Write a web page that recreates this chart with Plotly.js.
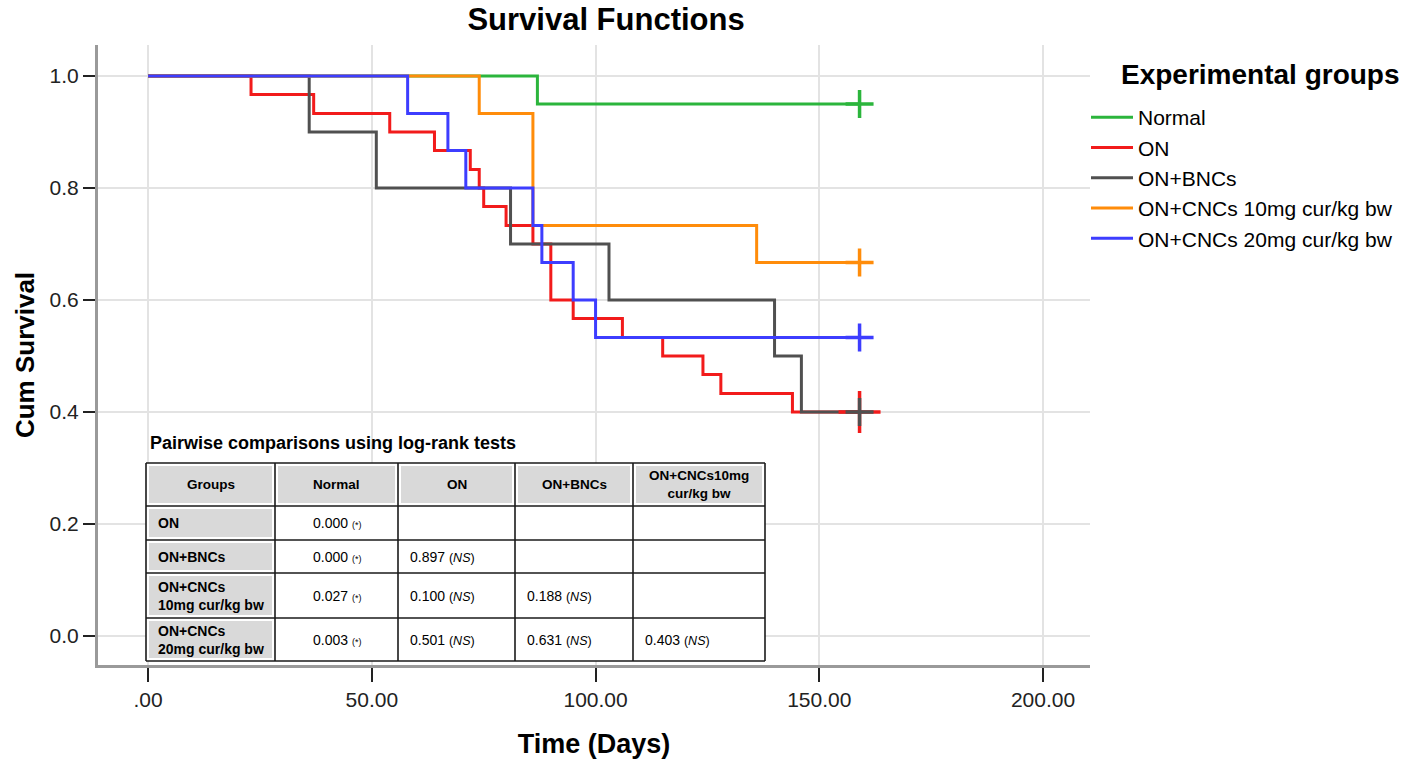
<!DOCTYPE html>
<html>
<head>
<meta charset="utf-8">
<script src="https://cdn.plot.ly/plotly-3.0.1.min.js"></script>
<style>
  html, body { margin: 0; padding: 0; background: #ffffff; }
  #chart { width: 1416px; height: 766px; }
</style>
</head>
<body>
<div id="chart"></div>
<script>
// ---------------- Data ----------------
const groups = ['Normal', 'ON', 'ON+BNCs', 'ON+CNCs 10mg cur/kg bw', 'ON+CNCs 20mg cur/kg bw'];

// Kaplan-Meier step curves: time (days) and cumulative survival
const normalTime = [0, 87, 159];
const normalSurv = [1.0, 0.95, 0.95];

const onTime = [0, 23, 37, 54, 64, 72, 74, 75, 80, 86, 90, 95, 106, 115, 124, 128, 144, 159];
const onSurv = [1.0, 0.967, 0.933, 0.900, 0.867, 0.833, 0.800, 0.767, 0.733, 0.700, 0.600, 0.567, 0.533, 0.500, 0.467, 0.433, 0.400, 0.400];

const bncTime = [0, 36, 51, 81, 103, 140, 146, 159];
const bncSurv = [1.0, 0.9, 0.8, 0.7, 0.6, 0.5, 0.4, 0.4];

const cnc10Time = [0, 74, 86, 136, 159];
const cnc10Surv = [1.0, 0.933, 0.733, 0.667, 0.667];

const cnc20Time = [0, 58, 67, 71, 86, 88, 95, 100, 159];
const cnc20Surv = [1.0, 0.933, 0.867, 0.800, 0.733, 0.667, 0.600, 0.533, 0.533];

// Censored observations (end of follow-up)
const censorTime = [159, 159, 159, 159, 159];
const censorSurv = [0.95, 0.40, 0.40, 0.667, 0.533];

// Axis ticks
const xTickVals = [0, 50, 100, 150, 200];
const xTickText = ['.00', '50.00', '100.00', '150.00', '200.00'];
const yTickVals = [0, 0.2, 0.4, 0.6, 0.8, 1.0];
const yTickText = ['0.0', '0.2', '0.4', '0.6', '0.8', '1.0'];

// Pairwise log-rank comparison table
const tableTitle = 'Pairwise comparisons using log-rank tests';
const tableHeader = ['Groups', 'Normal', 'ON', 'ON+BNCs', 'ON+CNCs10mg<br>cur/kg bw'];
const rowLabels = ['ON', 'ON+BNCs', 'ON+CNCs<br>10mg cur/kg bw', 'ON+CNCs<br>20mg cur/kg bw'];
const pNormal = [0.000, 0.000, 0.027, 0.003];
const pON = [null, 0.897, 0.100, 0.501];
const pBNC = [null, null, 0.188, 0.631];
const pCNC10 = [null, null, null, 0.403];

// ---------------- Styles & layout geometry ----------------
const groupColors = ['#2bb53c', '#f21b1b', '#505050', '#ff8c0a', '#3d3dff'];
const FONT = 'Liberation Sans, Arial, sans-serif';
const W = 1416, H = 766;
const M = { l: 98, r: 326, t: 45, b: 101 };
const plotW = W - M.l - M.r, plotH = H - M.t - M.b;
const px2x = p => (p - M.l) / plotW;          // pixel -> paper x
const px2y = p => (H - M.b - p) / plotH;      // pixel -> paper y

// table grid (pixels)
const colEdges = [146, 275, 398, 515, 633, 765];
const rowEdges = [463, 506, 540, 573, 618, 661];
const colAlign = ['left', 'center', 'left', 'left', 'left'];

// ---------------- Traces ----------------
const times = [normalTime, onTime, bncTime, cnc10Time, cnc20Time];
const survs = [normalSurv, onSurv, bncSurv, cnc10Surv, cnc20Surv];
const traces = [];
for (let i = 0; i < groups.length; i++) {
  traces.push({
    type: 'scatter', mode: 'lines', name: groups[i],
    x: times[i], y: survs[i],
    line: { shape: 'hv', color: groupColors[i], width: 3 },
    hoverinfo: 'x+y+name'
  });
}
for (let i = 0; i < groups.length; i++) {
  traces.push({
    type: 'scatter', mode: 'markers', showlegend: false,
    x: [censorTime[i]], y: [censorSurv[i]],
    marker: { symbol: 'cross-thin', size: i === 1 ? 30 : 20, line: { color: groupColors[i], width: 3.5 } },
    hoverinfo: 'skip'
  });
}

// ---------------- Table (shapes + annotations) ----------------
function fmtP(v) {
  if (v === null) return '';
  const s = v.toFixed(3);
  if (v < 0.05) return s + ' <span style="font-size:9px">(*)</span>';
  return s + ' <span style="font-size:12.5px">(<i>NS</i>)</span>';
}
const bodyCols = [rowLabels.map(t => '<b>' + t + '</b>'), pNormal.map(fmtP), pON.map(fmtP), pBNC.map(fmtP), pCNC10.map(fmtP)];

const shapes = [];
const annotations = [];
const L = colEdges[0], R = colEdges[colEdges.length - 1];
const T = rowEdges[0], B = rowEdges[rowEdges.length - 1];
shapes.push({ type: 'rect', xref: 'paper', yref: 'paper', x0: px2x(L), x1: px2x(R), y0: px2y(B), y1: px2y(T),
  fillcolor: '#ffffff', line: { width: 0 }, layer: 'above' });
const inset = 3;
for (let c = 0; c < colEdges.length - 1; c++) {
  shapes.push({ type: 'rect', xref: 'paper', yref: 'paper',
    x0: px2x(colEdges[c] + inset), x1: px2x(colEdges[c + 1] - inset),
    y0: px2y(rowEdges[1] - inset), y1: px2y(rowEdges[0] + inset),
    fillcolor: '#d9d9d9', line: { width: 0 }, layer: 'above' });
}
for (let r = 1; r < rowEdges.length - 1; r++) {
  shapes.push({ type: 'rect', xref: 'paper', yref: 'paper',
    x0: px2x(colEdges[0] + inset), x1: px2x(colEdges[1] - inset),
    y0: px2y(rowEdges[r + 1] - inset), y1: px2y(rowEdges[r] + inset),
    fillcolor: '#d9d9d9', line: { width: 0 }, layer: 'above' });
}
for (const cx of colEdges) {
  shapes.push({ type: 'line', xref: 'paper', yref: 'paper', x0: px2x(cx), x1: px2x(cx), y0: px2y(B), y1: px2y(T),
    line: { color: '#1a1a1a', width: 1.6 }, layer: 'above' });
}
for (const ry of rowEdges) {
  shapes.push({ type: 'line', xref: 'paper', yref: 'paper', x0: px2x(L), x1: px2x(R), y0: px2y(ry), y1: px2y(ry),
    line: { color: '#1a1a1a', width: 1.6 }, layer: 'above' });
}
for (let c = 0; c < tableHeader.length; c++) {
  annotations.push({ text: '<b>' + tableHeader[c] + '</b>', xref: 'paper', yref: 'paper',
    x: px2x((colEdges[c] + colEdges[c + 1]) / 2), y: px2y((rowEdges[0] + rowEdges[1]) / 2),
    xanchor: 'center', yanchor: 'middle', align: 'center', showarrow: false,
    font: { family: FONT, size: 13.5, color: '#000000' } });
}
const pad = 10;
for (let c = 0; c < bodyCols.length; c++) {
  for (let r = 0; r < rowLabels.length; r++) {
    const t = bodyCols[c][r];
    if (!t) continue;
    const centered = colAlign[c] === 'center';
    annotations.push({ text: t, xref: 'paper', yref: 'paper',
      x: centered ? px2x((colEdges[c] + colEdges[c + 1]) / 2) : px2x(colEdges[c] + pad),
      y: px2y((rowEdges[r + 1] + rowEdges[r + 2]) / 2),
      xanchor: centered ? 'center' : 'left', yanchor: 'middle', align: centered ? 'center' : 'left',
      showarrow: false, font: { family: FONT, size: 14, color: '#000000' } });
  }
}
annotations.push({ text: '<b>' + tableTitle + '</b>', xref: 'paper', yref: 'paper',
  x: px2x(148), y: px2y(443), xanchor: 'left', yanchor: 'middle', showarrow: false,
  font: { family: FONT, size: 18, color: '#000000' } });
annotations.push({ text: '<b>Experimental groups</b>', xref: 'paper', yref: 'paper',
  x: px2x(1119), y: px2y(75), xanchor: 'left', yanchor: 'middle', showarrow: false,
  font: { family: FONT, size: 28, color: '#000000' } });

const layout = {
  width: W, height: H,
  paper_bgcolor: '#ffffff', plot_bgcolor: '#ffffff',
  margin: M,
  font: { family: FONT, color: '#000000' },
  title: {
    text: '<b>Survival Functions</b>',
    font: { family: FONT, size: 31, color: '#000000' },
    xref: 'container', x: 0.428, xanchor: 'center',
    yref: 'container', y: 0.975, yanchor: 'middle'
  },
  xaxis: {
    range: [-11.2, 210.5],
    tickvals: xTickVals, ticktext: xTickText,
    ticks: 'outside', ticklen: 14, tickwidth: 2, tickcolor: '#222222',
    tickfont: { family: FONT, size: 21, color: '#222222' },
    showgrid: true, gridcolor: '#e3e3e3', gridwidth: 2,
    zeroline: false,
    showline: true, linecolor: '#9a9a9a', linewidth: 3,
    title: { text: '<b>Time (Days)</b>', font: { family: FONT, size: 27, color: '#000000' }, standoff: 24 }
  },
  yaxis: {
    range: [-0.0518, 1.0554],
    tickvals: yTickVals, ticktext: yTickText,
    ticks: 'outside', ticklen: 12, tickwidth: 2, tickcolor: '#222222',
    tickfont: { family: FONT, size: 21, color: '#222222' },
    showgrid: true, gridcolor: '#e3e3e3', gridwidth: 2,
    zeroline: false,
    showline: true, linecolor: '#9a9a9a', linewidth: 3,
    title: { text: '<b>Cum Survival</b>', font: { family: FONT, size: 26, color: '#000000' }, standoff: 8 }
  },
  showlegend: true,
  legend: {
    x: px2x(1086), xanchor: 'left', y: px2y(97), yanchor: 'top',
    font: { family: FONT, size: 21, color: '#000000' },
    bgcolor: 'rgba(0,0,0,0)', borderwidth: 0,
    itemwidth: 42, tracegroupgap: 0
  },
  shapes: shapes,
  annotations: annotations
};

Plotly.newPlot('chart', traces, layout, { displayModeBar: false, responsive: false });
</script>
</body>
</html>
